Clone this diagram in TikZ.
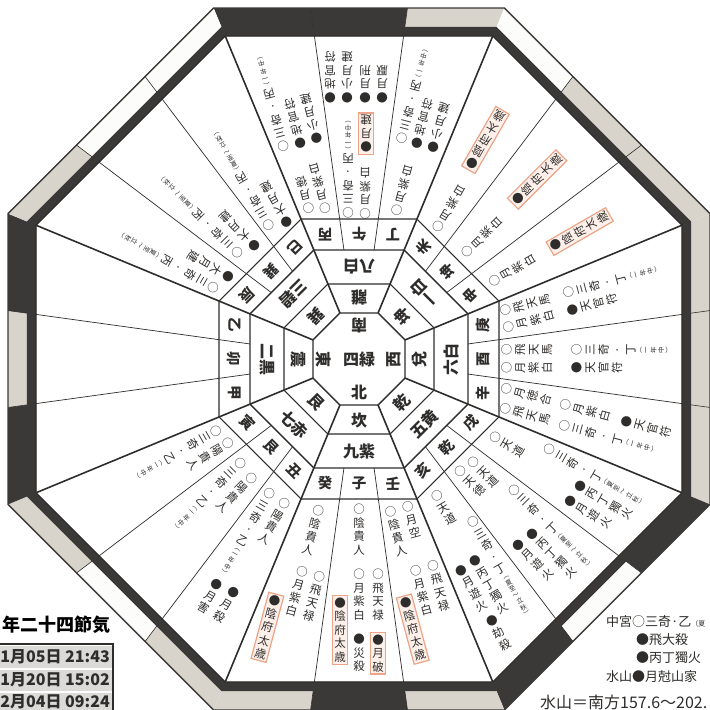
\documentclass[tikz,border=0pt]{standalone}
\usepackage{fontspec}
\newfontfamily\jp{Noto Sans CJK JP}
\usetikzlibrary{calc}
\definecolor{ink}{HTML}{2F2D2B}
\definecolor{segD}{HTML}{3B3937}
\definecolor{segG}{HTML}{D8D4CB}
\definecolor{segW}{HTML}{FCFCFA}
\definecolor{hlfill}{HTML}{FDF0EA}
\definecolor{hldraw}{HTML}{EBA486}
\definecolor{rowfill}{HTML}{DCDAD6}
\tikzset{
  ringline/.style={draw=ink, line width=1.1pt},
  spoke/.style={draw=ink, line width=1.6pt},
  thirdline/.style={draw=ink, line width=0.7pt},
  segline/.style={draw=ink, line width=0.6pt},
  bagua/.style={font=\jp\bfseries\fontsize{16}{16}\selectfont, inner sep=0pt, text=ink},
  eto/.style={font=\jp\bfseries\fontsize{14.5}{14.5}\selectfont, inner sep=0pt, text=ink},
  ent/.style={font=\jp\fontsize{11.5}{13.5}\selectfont, align=center, inner sep=0pt,
    anchor=north, text=ink},
  hl/.style={ent, fill=hlfill, draw=hldraw, line width=1.2pt, inner sep=2pt},
  legend/.style={font=\jp\fontsize{13}{13}\selectfont, inner sep=0pt, anchor=west, text=ink},
  rowtxt/.style={font=\jp\bfseries\fontsize{16}{16}\selectfont, inner sep=0pt, anchor=east, text=ink}
}
\newcommand{\octo}[1]{(22.5:#1) -- (67.5:#1) -- (112.5:#1) -- (157.5:#1) -- (202.5:#1) -- (247.5:#1) -- (292.5:#1) -- (337.5:#1) -- cycle}
\newcounter{entno}
% sector angle, distance from centre, sideways offset, text
\newcommand{\ent}[5][ent]{\stepcounter{entno}%
  \node[#1, rotate=90-#2] (e\theentno) at ($(ctr)+(#2:#3)+(#2-90:#4)$) {#5};}
\newcommand{\sm}[1]{{\fontsize{6.5}{7}\selectfont\begin{tabular}{@{}c@{}}#1\end{tabular}}}
\newcommand{\allyr}{\sm{︵\\一\\年\\中\\︶}}
\newcommand{\summer}{\sm{︵\\夏\\至\\〜\\立\\秋\\︶}}

\begin{document}
\begin{tikzpicture}[x=1pt, y=-1pt]
  \useasboundingbox (0,0) rectangle (710,710);
  \clip (0,0) rectangle (710,710);
  \fill[white] (0,0) rectangle (710,710);
  \coordinate (ctr) at (359,359);

  \begin{scope}[shift={(ctr)}]
    % outer band, three pieces a side
    \foreach \b/\p/\q/\r in {-90/segD/segD/segG, -45/segW/segG/segG, 0/segG/segG/segG,
        45/segD/segW/segD, 90/segG/segD/segG, 135/segG/segW/segG,
        180/segD/segG/segD, 225/segG/segW/segW}{
      \coordinate (i1) at (\b-22.5:349.6);
      \coordinate (i2) at (\b+22.5:349.6);
      \coordinate (o1) at (\b-22.5:379.9);
      \coordinate (o2) at (\b+22.5:379.9);
      \fill[\p] (i1) -- ($(i1)!1/3!(i2)$) -- ($(o1)!1/3!(o2)$) -- (o1) -- cycle;
      \fill[\q] ($(i1)!1/3!(i2)$) -- ($(i1)!2/3!(i2)$) -- ($(o1)!2/3!(o2)$) -- ($(o1)!1/3!(o2)$) -- cycle;
      \fill[\r] ($(i1)!2/3!(i2)$) -- (i2) -- (o2) -- ($(o1)!2/3!(o2)$) -- cycle;
      \draw[segline] ($(i1)!1/3!(i2)$) -- ($(o1)!1/3!(o2)$) ($(i1)!2/3!(i2)$) -- ($(o1)!2/3!(o2)$);
    }
    \fill[segD, even odd rule] \octo{349.6} \octo{359.4};
    \draw[segD, line width=1.4pt] \octo{379.9};

    % rings
    \draw[ringline] \octo{349.6};
    \draw[ringline] \octo{151.5};
    \draw[ringline, line width=1.4pt] \octo{118.0};
    \draw[ringline] \octo{81.2};
    \draw[ringline, line width=1.4pt] \octo{49.8};
    \foreach \a in {22.5,67.5,...,337.5}
      \draw[spoke] (\a:49.8) -- (\a:349.6);
    \foreach \b in {0,45,...,315}
      \foreach \s in {-7.861,7.861}
        \draw[thirdline] (\b+\s:110.0) -- (\b+\s:326.1);

    % centre
    \node[bagua] (yr) at (0,0) {四緑};
    \node[bagua, rotate=180] (dS) at (0,-33) {南};
    \node[bagua] (dN) at (0,33) {北};
    \node[bagua, rotate=-90] (dE) at (-35,0) {東};
    \node[bagua, rotate=90] (dW) at (35,0) {西};

    % trigrams
    \foreach \b/\t in {-90/離, -45/坤, 0/兌, 45/乾, 90/坎, 135/艮, 180/震, 225/巽}
      \node[bagua, rotate=90-\b] (g\b) at (\b:61) {\t};
    % stars
    \foreach \b/\t in {-90/八白, -45/一白, 0/六白, 45/五黄, 90/九紫, 135/七赤, 180/二黒, 225/三碧}
      \node[bagua, rotate=90-\b] (k\b) at (\b:92) {\t};
    % mountains
    \foreach \b/\u/\v/\w in {-90/丙/午/丁, -45/未/坤/申, 0/庚/酉/辛, 45/戌/乾/亥,
        90/壬/子/癸, 135/丑/艮/寅, 180/甲/卯/乙, 225/辰/巽/巳}{
      \node[eto, rotate=90-\b] (m\b a) at (\b-15.2:129) {\u};
      \node[eto, rotate=90-\b] (m\b b) at (\b:124.5) {\v};
      \node[eto, rotate=90-\b] (m\b c) at (\b+15.2:129) {\w};
    }
  \end{scope}

  % south
  \ent{-105}{149}{-6}{○\\月\\紫\\白}
  \ent{-105}{153}{10}{○\\月\\徳}
  \ent{-105}{220}{18}{○\\三\\奇\\·\\丙\\\allyr}
  \ent{-105}{218}{1}{●\\地\\官\\符}
  \ent{-105}{219}{-16}{●\\小\\月\\建}
  \ent{-90}{140}{-6}{○\\月\\紫\\白}
  \ent{-90}{141}{11}{○\\三\\奇\\·\\丙\\\allyr}
  \ent[hl]{-90}{204}{-7}{●\\月\\建}
  \ent{-90}{256}{29}{●\\地\\官\\符}
  \ent{-90}{256}{12}{●\\小\\月\\建}
  \ent{-90}{256}{-6}{●\\月\\刑}
  \ent{-90}{256}{-23}{●\\月\\厭}
  \ent{-75}{148}{2}{○\\月\\紫\\白}
  \ent{-75}{219}{16}{○\\三\\奇\\·\\丙\\\allyr}
  \ent{-75}{218}{0}{●\\地\\官\\符}
  \ent{-75}{218}{-17}{●\\小\\月\\建}

  % south-west
  \ent{-60}{149}{-3}{○\\月\\紫\\白}
  \ent[hl]{-60}{218}{0}{●\\陰\\府\\太\\歳}
  \ent{-45}{147}{-1}{○\\月\\紫\\白}
  \ent[hl]{-45}{218}{1}{●\\陰\\府\\太\\歳}
  \ent{-30}{151}{0}{○\\月\\紫\\白}
  \ent[hl]{-30}{220}{0}{●\\陰\\府\\太\\歳}

  % west
  \ent{-15}{149}{9}{○\\飛\\天\\馬}
  \ent{-15}{148}{-8}{○\\月\\紫\\白}
  \ent{-15}{214}{10}{○\\三\\奇\\·\\丁\\\allyr}
  \ent{-15}{214}{-8}{●\\天\\官\\符}
  \ent{0}{142}{9}{○\\飛\\天\\馬}
  \ent{0}{142}{-9}{○\\月\\紫\\白}
  \ent{0}{212}{9}{○\\三\\奇\\·\\丁\\\allyr}
  \ent{0}{212}{-9}{●\\天\\官\\符}
  \ent{15}{145}{9}{○\\月\\徳\\合}
  \ent{15}{149}{-10}{○\\飛\\天\\馬}
  \ent{15}{206}{9}{○\\月\\紫\\白}
  \ent{15}{211}{-11}{○\\三\\奇\\·\\丁\\\allyr}
  \ent{15}{269}{9}{●\\天\\官\\符}

  % north-west
  \ent{30}{152}{0}{○\\天\\道}
  \ent{30}{205}{17}{○\\三\\奇\\·\\丁\\\summer}
  \ent{30}{250}{0}{●\\丙\\丁\\獨\\火}
  \ent{30}{249}{-18}{●\\月\\遊\\火}
  \ent{45}{149}{8}{○\\天\\道}
  \ent{45}{146}{-8}{○\\天\\徳}
  \ent{45}{197}{17}{○\\三\\奇\\·\\丁\\\summer}
  \ent{45}{241}{-1}{●\\丙\\丁\\獨\\火}
  \ent{45}{239}{-19}{●\\月\\遊\\火}
  \ent{60}{152}{-1}{○\\天\\道}
  \ent{60}{193}{18}{○\\三\\奇\\·\\丁\\\summer}
  \ent{60}{228}{0}{●\\丙\\丁\\獨\\火}
  \ent{60}{229}{-17}{●\\月\\遊\\火}
  \ent{60}{288}{-16}{●\\劫\\殺}

  % north
  \ent{75}{150}{-9}{○\\陰\\貴\\人}
  \ent{75}{150}{9}{○\\月\\空}
  \ent{75}{214}{0}{○\\月\\紫\\白}
  \ent{75}{214}{18}{○\\飛\\天\\禄}
  \ent[hl]{75}{240}{-18}{●\\陰\\府\\太\\歳}
  \ent{90}{145}{0}{○\\陰\\貴\\人}
  \ent{90}{210}{0}{○\\月\\紫\\白}
  \ent{90}{210}{19}{○\\飛\\天\\禄}
  \ent[hl]{90}{236}{-19}{●\\陰\\府\\太\\歳}
  \ent{90}{275}{0}{●\\災\\殺}
  \ent[hl]{90}{273}{19}{●\\月\\破}
  \ent{105}{152}{0}{○\\陰\\貴\\人}
  \ent{105}{215}{0}{○\\月\\紫\\白}
  \ent{105}{215}{18}{○\\飛\\天\\禄}
  \ent[hl]{105}{248}{-19}{●\\陰\\府\\太\\歳}

  % north-east
  \ent{120}{157}{8}{○\\陽\\貴\\人}
  \ent{120}{156}{-10}{○\\三\\奇\\·\\乙\\\allyr}
  \ent{120}{260}{8}{●\\月\\殺}
  \ent{120}{261}{-10}{●\\月\\害}
  \ent{135}{155}{8}{○\\陽\\貴\\人}
  \ent{135}{152}{-10}{○\\三\\奇\\·\\乙\\\allyr}
  \ent{150}{150}{8}{○\\陽\\貴\\人}
  \ent{150}{154}{-9}{○\\三\\奇\\·\\乙\\\allyr}

  % south-east
  \ent{210}{156}{11}{○\\三\\奇\\·\\丙\\\summer}
  \ent{210}{149}{-6}{●\\大\\月\\建}
  \ent{225}{156}{11}{○\\三\\奇\\·\\丙\\\summer}
  \ent{225}{149}{-6}{●\\大\\月\\建}
  \ent{240}{156}{11}{○\\三\\奇\\·\\丙\\\summer}
  \ent{240}{149}{-6}{●\\大\\月\\建}

  % solar terms table
  \node[font=\jp\bfseries\fontsize{18}{18}\selectfont, inner sep=0pt, anchor=east] (ttl) at (111,625) {年二十四節気};
  \fill[rowfill] (-5,646) rectangle (112,668);
  \fill[rowfill] (-5,670) rectangle (112,691);
  \fill[rowfill] (-5,693) rectangle (112,714);
  \draw[ink, line width=1.2pt] (-5,644) rectangle (113,716);
  \node[rowtxt] (r1) at (110,657) {1月05日 21:43};
  \node[rowtxt] (r2) at (110,680) {1月20日 15:02};
  \node[rowtxt] (r3) at (110,702) {2月04日 09:24};

  % legend
  \node[legend] (l1) at (606,622) {中宮○三奇·乙{\fontsize{7}{7}\selectfont （夏}};
  \node[legend] (l2) at (636,640) {●飛大殺};
  \node[legend] (l3) at (636,658) {●丙丁獨火};
  \node[legend] (l4) at (606,677) {水山●月尅山家};
  \node[legend, font=\jp\fontsize{16}{16}\selectfont] (l5) at (540,702) {水山＝南方157.6〜202.};
\end{tikzpicture}
\end{document}
